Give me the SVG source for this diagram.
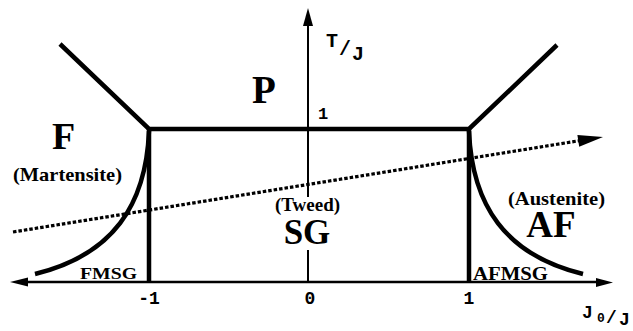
<svg xmlns="http://www.w3.org/2000/svg" width="633" height="331" viewBox="0 0 633 331">
<defs>
<style>
.bd{fill:none;stroke:#000;stroke-width:4.5;stroke-linecap:butt;stroke-linejoin:miter}
.ax{fill:none;stroke:#000;stroke-width:2.5}
.dot{fill:none;stroke:#000;stroke-width:3.2;stroke-dasharray:3.5 2}
.ser{font-family:"Liberation Serif","Times New Roman",serif;font-weight:bold;fill:#000}
.mono{font-family:"Liberation Mono","Courier New",monospace;font-weight:bold;fill:#000}
</style>
</defs>
<rect width="633" height="331" fill="#fff"/>
<g id="connectors">
  <line class="ax" x1="24" y1="282" x2="600" y2="282"/>
  <polygon points="10,282 28,277.5 28,286.5" fill="#000"/>
  <polygon points="613,282.5 596,278 596,287" fill="#000"/>
  <line class="ax" x1="308" y1="22" x2="308" y2="197" style="stroke-width:2"/>
  <line class="ax" x1="308" y1="250" x2="308" y2="282" style="stroke-width:2"/>
  <polygon points="308,8 303,26 313,26" fill="#000"/>
  <line class="dot" x1="13" y1="232" x2="580" y2="140.6"/>
  <polygon points="603,137 577.4,135 579.2,146.8" fill="#000"/>
</g>
<g id="boundaries">
  <polyline class="bd" points="60,44 149,129 469,129 557,45"/>
  <line class="bd" x1="149" y1="129" x2="149" y2="282"/>
  <line class="bd" x1="469" y1="129" x2="469" y2="282"/>
  <path class="bd" d="M149,131 C146,205 113,255 35,274"/>
  <path class="bd" d="M469,131 C472,205 505,255 583,274"/>
</g>
<g id="labels">
  <text class="ser" x="252" y="103" font-size="39">P</text>
  <text class="ser" x="52" y="149" font-size="38">F</text>
  <text class="ser" x="13" y="181" font-size="19" textLength="109" lengthAdjust="spacingAndGlyphs">(Martensite)</text>
  <text class="ser" x="307.5" y="211" font-size="19" text-anchor="middle">(Tweed)</text>
  <text class="ser" x="307" y="244" font-size="35" text-anchor="middle">SG</text>
  <text class="ser" x="508" y="205" font-size="19" textLength="97" lengthAdjust="spacingAndGlyphs">(Austenite)</text>
  <text class="ser" x="551" y="237" font-size="37" text-anchor="middle">AF</text>
  <text class="ser" x="80" y="279" font-size="17" textLength="57" lengthAdjust="spacingAndGlyphs">FMSG</text>
  <text class="ser" x="473" y="280" font-size="19" textLength="75" lengthAdjust="spacingAndGlyphs">AFMSG</text>
  <text class="mono" x="149" y="304" font-size="18" text-anchor="middle">-1</text>
  <text class="mono" x="310" y="304" font-size="18" text-anchor="middle">0</text>
  <text class="mono" x="469" y="304" font-size="18" text-anchor="middle">1</text>
  <text class="mono" x="323" y="119" font-size="17" text-anchor="middle">1</text>
  <text class="mono" font-size="20"><tspan x="326" y="47">T</tspan><tspan x="339" y="55">/</tspan><tspan x="352" y="60">J</tspan></text>
  <text class="mono" font-size="18"><tspan x="582" y="318">J</tspan><tspan x="597" y="322" font-size="13">0</tspan><tspan x="606" y="323">/</tspan><tspan x="619" y="325">J</tspan></text>
</g>
</svg>
